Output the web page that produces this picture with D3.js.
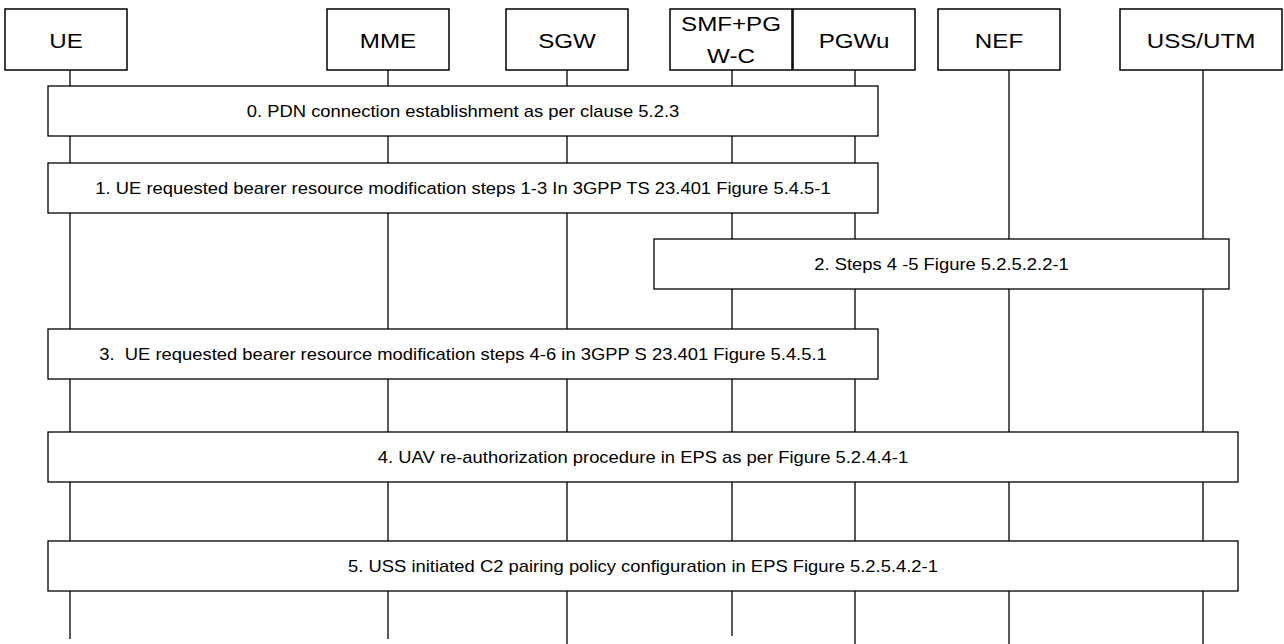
<!DOCTYPE html>
<html>
<head>
<meta charset="utf-8">
<script src="https://cdnjs.cloudflare.com/ajax/libs/d3/7.8.5/d3.min.js"></script>
<style>
  body { margin: 0; background: #fff; }
  svg { display: block; }
</style>
</head>
<body>
<div id="vis"></div>
<script>
const FRAME_WIDTH = 1284;
const FRAME_HEIGHT = 644;

// participants (header boxes), left to right
const participants = ["UE", "MME", "SGW", "SMF+PGW-C", "PGWu", "NEF", "USS/UTM"];
const participantLines = [["UE"], ["MME"], ["SGW"], ["SMF+PG", "W-C"], ["PGWu"], ["NEF"], ["USS/UTM"]];

// procedure steps: label, first and last participant covered
const stepLabels = [
  "0. PDN connection establishment as per clause 5.2.3",
  "1. UE requested bearer resource modification steps 1-3 In 3GPP TS 23.401 Figure 5.4.5-1",
  "2. Steps 4 -5 Figure 5.2.5.2.2-1",
  "3.  UE requested bearer resource modification steps 4-6 in 3GPP S 23.401 Figure 5.4.5.1",
  "4. UAV re-authorization procedure in EPS as per Figure 5.2.4.4-1",
  "5. USS initiated C2 pairing policy configuration in EPS Figure 5.2.5.4.2-1"
];
const stepFrom = ["UE", "UE", "SMF+PGW-C", "UE", "UE", "UE"];
const stepTo = ["PGWu", "PGWu", "USS/UTM", "PGWu", "USS/UTM", "USS/UTM"];

// ---- layout ----
const LIFE_X = [70, 388, 567, 732, 855, 1009, 1203];
const HEAD_BOX = [[5, 127], [327, 449], [506, 628], [670, 792], [793, 915], [938, 1060], [1120, 1282]];
const HEAD_TOP = 9, HEAD_BOTTOM = 70;
const LIFE_END = [639, 639, 644, 636, 644, 644, 644];
const STEP_TOP = [86, 163, 239, 329, 432, 541];
const STEP_H = 50;
const PAD_LEFT = [22, 22, 78, 22, 22, 22];
const PAD_RIGHT = [23, 23, 26, 23, 35, 35];
const STRETCH = 1.15; // the figure's text is a little wider than plain Arial

const x = d3.scaleOrdinal().domain(participants).range(LIFE_X);
const y = d3.scaleLinear().domain([0, FRAME_HEIGHT]).range([0, FRAME_HEIGHT]);

const svg = d3.select("#vis")
  .append("svg")
    .attr("width", FRAME_WIDTH)
    .attr("height", FRAME_HEIGHT);

// lifelines
svg.selectAll(".life")
  .data(participants)
  .join("line")
    .attr("class", "life")
    .attr("x1", d => x(d))
    .attr("x2", d => x(d))
    .attr("y1", y(HEAD_BOTTOM))
    .attr("y2", (d, i) => y(LIFE_END[i]))
    .attr("stroke", "#000")
    .attr("stroke-width", 1.3);

// header boxes
const heads = svg.selectAll(".head")
  .data(participants)
  .join("g")
    .attr("class", "head");

heads.append("rect")
  .attr("x", (d, i) => HEAD_BOX[i][0])
  .attr("y", y(HEAD_TOP))
  .attr("width", (d, i) => HEAD_BOX[i][1] - HEAD_BOX[i][0])
  .attr("height", y(HEAD_BOTTOM) - y(HEAD_TOP))
  .attr("fill", "#fff")
  .attr("stroke", "#000")
  .attr("stroke-width", 1.5);

heads.each(function(d, i) {
  const lines = participantLines[i];
  const cx = (HEAD_BOX[i][0] + HEAD_BOX[i][1]) / 2;
  const t = d3.select(this).append("text")
    .attr("transform", `translate(${cx},0) scale(${STRETCH},1)`)
    .attr("text-anchor", "middle")
    .attr("font-family", "Liberation Sans, Arial, sans-serif")
    .attr("font-size", 21)
    .attr("fill", "#000");
  if (lines.length === 1) {
    t.append("tspan").attr("x", 0).attr("y", y(48)).text(lines[0]);
  } else {
    t.append("tspan").attr("x", 0).attr("y", y(31)).text(lines[0]);
    t.append("tspan").attr("x", 0).attr("y", y(63)).text(lines[1]);
  }
});

// step boxes
const steps = svg.selectAll(".step")
  .data(stepLabels)
  .join("g")
    .attr("class", "step");

steps.append("rect")
  .attr("x", (d, i) => x(stepFrom[i]) - PAD_LEFT[i])
  .attr("y", (d, i) => y(STEP_TOP[i]))
  .attr("width", (d, i) => x(stepTo[i]) + PAD_RIGHT[i] - (x(stepFrom[i]) - PAD_LEFT[i]))
  .attr("height", STEP_H)
  .attr("fill", "#fff")
  .attr("stroke", "#000")
  .attr("stroke-width", 1.3);

steps.append("text")
  .attr("transform", (d, i) => {
    const cx = (x(stepFrom[i]) - PAD_LEFT[i] + x(stepTo[i]) + PAD_RIGHT[i]) / 2;
    return `translate(${cx},${y(STEP_TOP[i] + STEP_H / 2)}) scale(${STRETCH},1)`;
  })
  .attr("dy", "0.35em")
  .attr("text-anchor", "middle")
  .attr("font-family", "Liberation Sans, Arial, sans-serif")
  .attr("font-size", 16)
  .attr("fill", "#000")
  .style("white-space", "pre")
  .text(d => d);
</script>
</body>
</html>
